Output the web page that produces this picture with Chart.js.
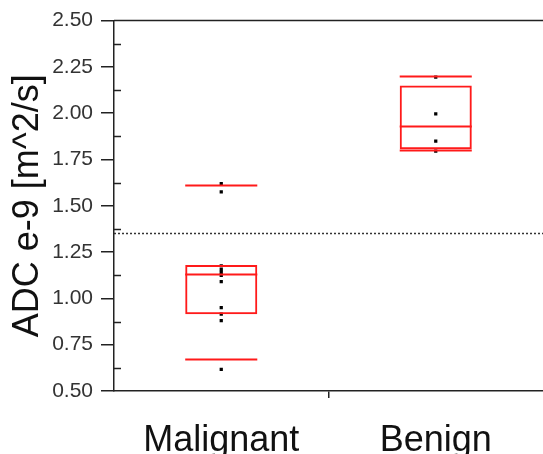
<!DOCTYPE html>
<html>
<head>
<meta charset="utf-8">
<script src="https://cdn.jsdelivr.net/npm/chart.js@4/dist/chart.umd.min.js"></script>
<style>
  html, body { margin: 0; padding: 0; background: #fff; overflow: hidden; }
  #wrap { width: 547px; height: 454px; position: relative; }
</style>
</head>
<body>
<div id="wrap"><canvas id="box"></canvas></div>
<script>
// groups
const groups = ['Malignant', 'Benign'];

// box stats per group: whiskers, quartiles, median
const lowWhisker = [0.675, 1.80];
const q1 = [0.915, 1.806];
const median = [1.13, 1.93];
const q3 = [1.18, 2.15];
const highWhisker = [1.615, 2.20];

// individual measurements
const malignantPoints = [1.62, 1.575, 1.175, 1.155, 1.14, 1.125, 1.09, 0.95, 0.915, 0.88, 0.617];
const benignPoints = [2.195, 1.997, 1.849, 1.795];

// cutoff line
const cutoff = 1.355;

const yTicks = [0.5, 0.75, 1.0, 1.25, 1.5, 1.75, 2.0, 2.25, 2.5];

const boxRed = '#ff1a1a';
const axisColor = '#222';

// draws medians, whiskers, minor ticks, frame top and cutoff line
const boxExtras = {
    id: 'boxExtras',
    afterDatasetsDraw(chart) {
        const ctx = chart.ctx;
        const y = chart.scales.y;
        const area = chart.chartArea;
        const bars = chart.getDatasetMeta(0).data;

        ctx.save();
        ctx.strokeStyle = boxRed;
        ctx.lineWidth = 2;
        bars.forEach((bar, i) => {
            const half = bar.width / 2;
            [lowWhisker[i], median[i], highWhisker[i]].forEach(v => {
                const py = Math.round(y.getPixelForValue(v)) + 0.5;
                ctx.beginPath();
                ctx.moveTo(bar.x - half, py);
                ctx.lineTo(bar.x + half, py);
                ctx.stroke();
            });
        });

        // dotted cutoff
        ctx.strokeStyle = '#333';
        ctx.lineWidth = 1.5;
        ctx.setLineDash([2, 2]);
        const cy = Math.round(y.getPixelForValue(cutoff)) + 0.5;
        ctx.beginPath();
        ctx.moveTo(area.left, cy);
        ctx.lineTo(area.right, cy);
        ctx.stroke();
        ctx.setLineDash([]);

        // top frame
        ctx.strokeStyle = axisColor;
        ctx.lineWidth = 1.5;
        ctx.beginPath();
        ctx.moveTo(area.left, area.top);
        ctx.lineTo(area.right, area.top);
        ctx.stroke();

        // inward minor ticks
        for (let v = 0.625; v < 2.5; v += 0.25) {
            const py = Math.round(y.getPixelForValue(v)) + 0.5;
            ctx.beginPath();
            ctx.moveTo(area.left, py);
            ctx.lineTo(area.left + 7, py);
            ctx.stroke();
        }
        ctx.restore();
    }
};

const pointSet = (name, vals) => vals.map(v => ({ x: name, y: v }));

new Chart(document.getElementById('box'), {
    type: 'bar',
    data: {
        labels: groups,
        datasets: [{
            label: 'IQR',
            data: groups.map((g, i) => [q1[i], q3[i]]),
            backgroundColor: 'rgba(0,0,0,0)',
            borderColor: boxRed,
            borderWidth: 2,
            borderSkipped: false,
            categoryPercentage: 1,
            barPercentage: 0.336
        }, {
            type: 'line',
            label: 'cases',
            data: pointSet('Malignant', malignantPoints).concat(pointSet('Benign', benignPoints)),
            showLine: false,
            pointStyle: 'rect',
            pointRadius: 2.3,
            pointBackgroundColor: '#000',
            pointBorderWidth: 0
        }]
    },
    options: {
        responsive: true,
        maintainAspectRatio: false,
        animation: false,
        events: [],
        layout: { padding: { left: 0, right: 0, top: 20, bottom: 0 } },
        plugins: { legend: { display: false }, tooltip: { enabled: false } },
        scales: {
            x: {
                offset: true,
                afterFit: s => { s.height = 63; },
                grid: {
                    offset: true,
                    drawOnChartArea: false,
                    tickLength: 7,
                    lineWidth: 1.5,
                    color: c => c.index === 1 ? axisColor : 'rgba(0,0,0,0)'
                },
                border: { display: true, color: axisColor, width: 1.5 },
                ticks: {
                    color: '#111',
                    padding: 21,
                    font: { family: 'Liberation Sans', size: 36 }
                }
            },
            y: {
                min: 0.5,
                max: 2.5,
                afterFit: s => { s.width = 114; },
                afterBuildTicks: s => { s.ticks = yTicks.map(v => ({ value: v })); },
                grid: {
                    drawOnChartArea: false,
                    tickLength: 13,
                    lineWidth: 1.5,
                    color: axisColor
                },
                border: { display: true, color: axisColor, width: 1.5 },
                ticks: {
                    color: '#333',
                    padding: 8,
                    font: { family: 'Liberation Sans', size: 21 },
                    callback: v => Number(v).toFixed(2)
                },
                title: {
                    display: true,
                    text: 'ADC e-9 [m^2/s]',
                    color: '#111',
                    padding: { top: 6, bottom: 0 },
                    font: { family: 'Liberation Sans', size: 36 }
                }
            }
        }
    },
    plugins: [boxExtras]
});
</script>
</body>
</html>
